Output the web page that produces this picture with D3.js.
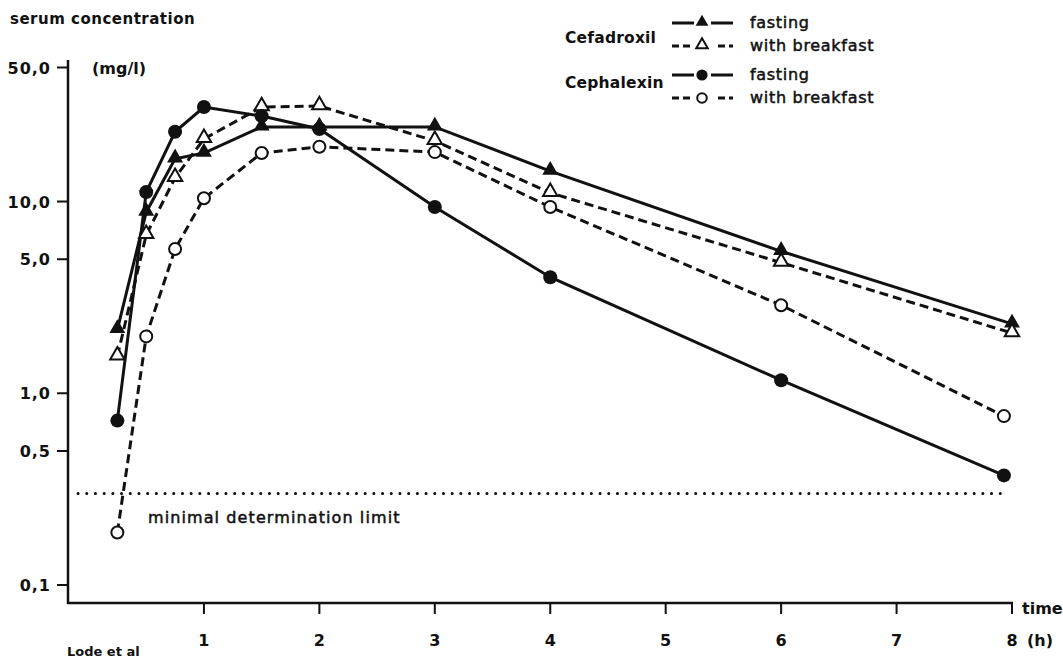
<!DOCTYPE html>
<html>
<head>
<meta charset="utf-8">
<script src="https://cdn.jsdelivr.net/npm/d3@7"></script>
<style>
  body { margin: 0; background: #fff; }
  svg { font-family: "DejaVu Sans", "Liberation Sans", Arial, sans-serif; }
  .lbl { font-weight: bold; fill: #111; }
  .med { font-weight: normal; fill: #111; stroke: #111; stroke-width: 0.5px; }
</style>
</head>
<body>
<div id="chart"></div>
<script>
// time points (h)
const times = [0.25, 0.5, 0.75, 1, 1.5, 2, 3, 4, 6, 8];
const timesCeph = [0.25, 0.5, 0.75, 1, 1.5, 2, 3, 4, 6, 7.93];
// serum concentrations (mg/l)
const cefadroxilFasting   = [2.15, 8.8, 16.7, 17.9, 24.5, 24.5, 24.5, 14.4, 5.5, 2.3];
const cefadroxilBreakfast = [1.56, 6.7, 13.3, 21.2, 31.1, 31.5, 20.7, 11.1, 4.8, 2.06];
const cephalexinFasting   = [0.72, 11.2, 23.1, 31.1, 27.9, 23.9, 9.36, 4.03, 1.17, 0.373];
const cephalexinBreakfast = [0.188, 1.98, 5.65, 10.4, 17.9, 19.3, 18.1, 9.36, 2.88, 0.76];
const limitValue = 0.3;
const yTicks = [0.1, 0.5, 1, 5, 10, 50];
const yTickLabels = ["0,1", "0,5", "1,0", "5,0", "10,0", "50,0"];
const xTicks = [1, 2, 3, 4, 5, 6, 7, 8];

const series = [
  {drug: "Cefadroxil", cond: "fasting", t: times, v: cefadroxilFasting, shape: "tri", filled: true, dashed: false},
  {drug: "Cefadroxil", cond: "with breakfast", t: times, v: cefadroxilBreakfast, shape: "tri", filled: false, dashed: true},
  {drug: "Cephalexin", cond: "fasting", t: timesCeph, v: cephalexinFasting, shape: "circ", filled: true, dashed: false},
  {drug: "Cephalexin", cond: "with breakfast", t: timesCeph, v: cephalexinBreakfast, shape: "circ", filled: false, dashed: true}
];

const width = 1063, height = 658;
const svg = d3.select("#chart").append("svg")
  .attr("width", width).attr("height", height);

const x = d3.scaleLinear().domain([0, 8]).range([88.5, 1012]);
const y = d3.scaleLog().domain([0.1, 50]).range([585, 67.5]);
const axisLeftX = 68, axisBottomY = 603;

// axes lines
svg.append("line").attr("x1", axisLeftX).attr("x2", axisLeftX)
  .attr("y1", 60).attr("y2", axisBottomY + 1)
  .attr("stroke", "#111").attr("stroke-width", 2.5);
svg.append("line").attr("x1", axisLeftX - 1).attr("x2", x(8) + 1)
  .attr("y1", axisBottomY).attr("y2", axisBottomY)
  .attr("stroke", "#111").attr("stroke-width", 2.5);

// y ticks
const yAxis = svg.append("g");
yAxis.selectAll("line").data(yTicks).enter().append("line")
  .attr("x1", axisLeftX - 11).attr("x2", axisLeftX)
  .attr("y1", d => y(d)).attr("y2", d => y(d))
  .attr("stroke", "#111").attr("stroke-width", 2);
yAxis.selectAll("text").data(yTicks).enter().append("text")
  .attr("class", "lbl")
  .attr("x", axisLeftX - 17).attr("y", d => y(d) + 6)
  .attr("text-anchor", "end").attr("font-size", 16)
  .attr("letter-spacing", 1)
  .text((d, i) => yTickLabels[i]);

// x ticks
const xAxis = svg.append("g");
xAxis.selectAll("line").data(xTicks).enter().append("line")
  .attr("x1", d => x(d)).attr("x2", d => x(d))
  .attr("y1", axisBottomY).attr("y2", axisBottomY + 11)
  .attr("stroke", "#111").attr("stroke-width", 2);
xAxis.selectAll("text").data(xTicks).enter().append("text")
  .attr("class", "lbl")
  .attr("x", d => x(d)).attr("y", 646)
  .attr("text-anchor", "middle").attr("font-size", 16)
  .text(d => d);
svg.append("text").attr("class", "lbl").attr("x", x(8) + 15).attr("y", 646)
  .attr("font-size", 16).text("(h)");
svg.append("text").attr("class", "lbl").attr("x", x(8) + 10).attr("y", 614)
  .attr("font-size", 16).text("time");

// titles
svg.append("text").attr("class", "lbl").attr("x", 10).attr("y", 24)
  .attr("font-size", 15).attr("letter-spacing", 0.5).text("serum concentration");
svg.append("text").attr("class", "lbl").attr("x", 92).attr("y", 74)
  .attr("font-size", 16).text("(mg/l)");
svg.append("text").attr("class", "lbl").attr("x", 67).attr("y", 656)
  .attr("font-size", 13).text("Lode et al");

// determination limit
svg.append("line").attr("x1", 78).attr("x2", 1008)
  .attr("y1", y(limitValue)).attr("y2", y(limitValue))
  .attr("stroke", "#111").attr("stroke-width", 3)
  .attr("stroke-linecap", "round").attr("stroke-dasharray", "0.1 8.6");
svg.append("text").attr("class", "med").attr("x", 148).attr("y", 523)
  .attr("font-size", 16).attr("letter-spacing", 1.1).text("minimal determination limit");

const line = d3.line().x(d => x(d[0])).y(d => y(d[1]));
const tri = d3.symbol().type(d3.symbolTriangle);

function marker(g, s, cx, cy, scale) {
  if (s.shape === "circ") {
    g.append("circle").attr("cx", cx).attr("cy", cy)
      .attr("r", s.filled ? 7 * scale : 6 * scale)
      .attr("fill", s.filled ? "#111" : "#fff")
      .attr("stroke", "#111").attr("stroke-width", s.filled ? 0 : 2);
  } else {
    g.append("path").attr("d", tri.size((s.filled ? 110 : 90) * scale * scale)())
      .attr("transform", "translate(" + cx + "," + (cy - 1) + ")")
      .attr("fill", s.filled ? "#111" : "#fff")
      .attr("stroke", "#111").attr("stroke-width", s.filled ? 0 : 2);
  }
}

// lines
series.forEach(s => {
  const pts = s.t.map((t, i) => [t, s.v[i]]);
  svg.append("path").datum(pts).attr("d", line)
    .attr("fill", "none").attr("stroke", "#111").attr("stroke-width", 3)
    .attr("stroke-dasharray", s.dashed ? "9 5" : null);
});
series.forEach(s => {
  const g = svg.append("g");
  s.t.forEach((t, i) => marker(g, s, x(t), y(s.v[i]), 1));
});

// legend
const legRows = [23, 46, 75, 98];
const legDrugY = [38, 83];
["Cefadroxil", "Cephalexin"].forEach((d, i) => {
  svg.append("text").attr("class", "lbl").attr("x", 565).attr("y", legDrugY[i] + 5)
    .attr("font-size", 15.5).attr("letter-spacing", 0.2).text(d);
});
series.forEach((s, i) => {
  const g = svg.append("g");
  const ly = legRows[i];
  if (s.dashed) {
    g.append("line").attr("x1", 672).attr("x2", 733).attr("y1", ly).attr("y2", ly)
      .attr("stroke", "#111").attr("stroke-width", 3)
      .attr("stroke-dasharray", "7 4 7 28 7 4");
  } else {
    g.append("line").attr("x1", 672).attr("x2", 733).attr("y1", ly).attr("y2", ly)
      .attr("stroke", "#111").attr("stroke-width", 3)
      .attr("stroke-dasharray", "22 17 22");
  }
  marker(g, s, 702, ly, 0.8);
  g.append("text").attr("class", "med").attr("x", 750).attr("y", ly + 5)
    .attr("font-size", 16).attr("letter-spacing", 0.7).text(s.cond);
});
</script>
</body>
</html>
